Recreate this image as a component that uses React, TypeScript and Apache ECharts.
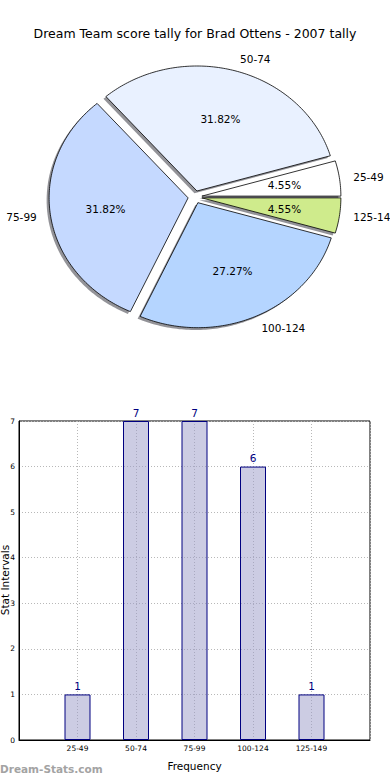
import React, { useEffect, useRef } from "react";
import * as echarts from "echarts";

const TITLE = "Dream Team score tally for Brad Ottens - 2007 tally";
const CATEGORIES = ["25-49", "50-74", "75-99", "100-124", "125-149"];
const COUNTS = [1, 7, 7, 6, 1];
const PIE_COLORS = ["#ffffff", "#e9f1ff", "#c5d9ff", "#b5d5ff", "#cfeb8c"];
const X_NAME = "Frequency";
const Y_NAME = "Stat Intervals";
const WATERMARK = "Dream-Stats.com";

// layout
const CX = 195;
const CY = 197;
const RX = 139;
const RY = 125;
const EXPLODE = 0.05;
const LABEL_DIST = 1.1;
const PCT_DIST = 0.6;
const SH_DX = -2.5;
const SH_DY = 2.3;
const FONT = "DejaVu Sans";

export default function App() {
  const ref = useRef<HTMLDivElement>(null);
  useEffect(() => {
    if (!ref.current) return;
    const chart = echarts.init(ref.current, null, { renderer: "svg" });
    const total = COUNTS.reduce((a, b) => a + b, 0);

    const renderSlice = (params: any, api: any) => {
      const i = params.dataIndex;
      const v = api.value(1) as number;
      let before = 0;
      for (let k = 0; k < i; k++) before += COUNTS[k];
      const a0 = (before / total) * Math.PI * 2;
      const a1 = ((before + v) / total) * Math.PI * 2;
      const mid = (a0 + a1) / 2;
      const sx = CX + EXPLODE * RX * Math.cos(mid);
      const sy = CY - EXPLODE * RY * Math.sin(mid);
      const pts: number[][] = [[sx, sy]];
      const steps = Math.max(2, Math.ceil((a1 - a0) / (Math.PI / 180)));
      for (let j = 0; j <= steps; j++) {
        const t = a0 + ((a1 - a0) * j) / steps;
        pts.push([sx + RX * Math.cos(t), sy - RY * Math.sin(t)]);
      }
      const shadow = pts.map((p) => [p[0] + SH_DX, p[1] + SH_DY]);
      const c = Math.cos(mid);
      const s = Math.sin(mid);
      const lx = sx + LABEL_DIST * RX * c;
      const ly = sy - LABEL_DIST * RY * s;
      const px = sx + PCT_DIST * RX * c;
      const py = sy - PCT_DIST * RY * s;
      const pct = ((v / total) * 100).toFixed(2) + "%";
      const align = c >= 0 ? "left" : "right";
      return {
        type: "group",
        children: [
          {
            type: "polygon",
            shape: { points: shadow },
            style: { fill: "rgba(40,40,50,0.5)" },
            z2: 1,
            silent: true,
          },
          {
            type: "polygon",
            shape: { points: pts },
            style: { fill: PIE_COLORS[i], stroke: "#000", lineWidth: 0.8 },
            z2: 5,
          },
          {
            type: "text",
            x: lx,
            y: ly,
            style: {
              text: CATEGORIES[i],
              fill: "#000",
              font: `10.5px "${FONT}"`,
              align,
              verticalAlign: "middle",
              textAlign: align,
              textVerticalAlign: "middle",
            },
            z2: 10,
          },
          {
            type: "text",
            x: px,
            y: py,
            style: {
              text: pct,
              fill: "#000",
              font: `10.5px "${FONT}"`,
              align: "center",
              verticalAlign: "middle",
              textAlign: "center",
              textVerticalAlign: "middle",
            },
            z2: 10,
          },
        ],
      };
    };

    const option: any = {
      animation: false,
      title: {
        text: TITLE,
        left: "center",
        top: 22,
        textStyle: {
          fontFamily: FONT,
          fontSize: 12.5,
          fontWeight: "normal",
          color: "#000",
        },
      },
      grid: {
        left: 19,
        right: 20,
        top: 421,
        bottom: 40,
        show: true,
        borderColor: "#000",
        borderWidth: 1,
        containLabel: false,
        outerBoundsMode: "none",
      },
      xAxis: {
        type: "value",
        min: 0,
        max: 6,
        interval: 1,
        name: X_NAME,
        nameLocation: "middle",
        nameGap: 20,
        nameTextStyle: { fontFamily: FONT, fontSize: 10.5, color: "#000" },
        axisLine: { show: true, lineStyle: { color: "#000", width: 1 } },
        axisTick: { show: false },
        axisLabel: {
          fontFamily: FONT,
          fontSize: 7.5,
          color: "#000",
          margin: 4,
          formatter: (v: number) => CATEGORIES[v - 1] || "",
        },
        splitLine: {
          show: true,
          lineStyle: { color: "#b8b8b8", type: [1, 2], width: 1 },
        },
      },
      yAxis: {
        type: "value",
        min: 0,
        max: 7,
        interval: 1,
        axisLine: { show: true, lineStyle: { color: "#000", width: 1 } },
        axisTick: { show: false },
        axisLabel: {
          fontFamily: FONT,
          fontSize: 7.5,
          color: "#000",
          margin: 4,
        },
        splitLine: {
          show: true,
          lineStyle: { color: "#b8b8b8", type: [1, 2], width: 1 },
        },
      },
      graphic: [
        {
          type: "text",
          x: 5,
          y: 580,
          rotation: Math.PI / 2,
          style: {
            text: Y_NAME,
            fill: "#000",
            font: `10.5px "${FONT}"`,
            align: "center",
            verticalAlign: "middle",
            textAlign: "center",
            textVerticalAlign: "middle",
          },
        },
        {
          type: "text",
          left: 0,
          top: 763,
          style: {
            text: WATERMARK,
            fill: "#a3a3a3",
            font: `bold 10.5px "${FONT}"`,
          },
        },
      ],
      series: [
        {
          type: "custom",
          coordinateSystem: "none",
          renderItem: renderSlice,
          data: COUNTS.map((c, i) => [i, c]),
          silent: true,
        },
        {
          type: "bar",
          xAxisIndex: 0,
          yAxisIndex: 0,
          barWidth: 26,
          data: COUNTS.map((c, i) => [i + 1, c]),
          itemStyle: {
            color: "rgba(153,153,200,0.5)",
            borderColor: "#000080",
            borderWidth: 1,
          },
          label: {
            show: true,
            position: "top",
            distance: 3,
            color: "#000080",
            fontFamily: FONT,
            fontSize: 10.5,
            formatter: (p: any) => String(p.value[1]),
          },
        },
      ],
    };
    chart.setOption(option);
    return () => chart.dispose();
  }, []);
  return (
    <div
      ref={ref}
      style={{ position: "fixed", left: 0, top: 0, width: 390, height: 780, background: "#fff" }}
    />
  );
}
